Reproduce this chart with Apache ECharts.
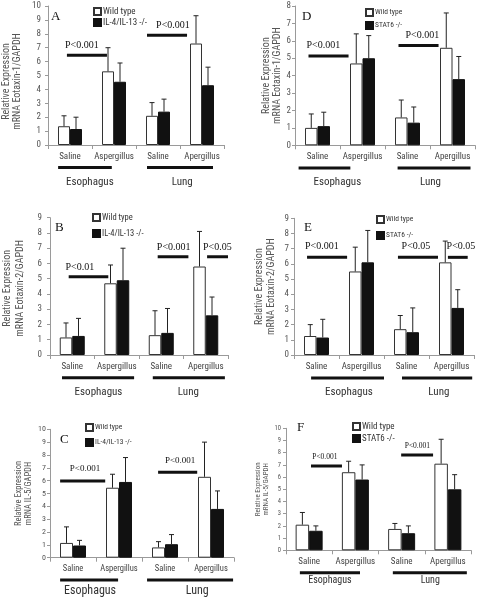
<!DOCTYPE html>
<html><head><meta charset="utf-8">
<script src="https://cdn.jsdelivr.net/npm/echarts@6/dist/echarts.min.js"></script>
<style>html,body{margin:0;padding:0;background:#fff}#c{width:480px;height:599px}</style>
</head><body><div id="c"></div><script>
// ---------- data ----------
const categories = ['Saline', 'Aspergillus', 'Saline', 'Apergillus'];
const groupNames = ['Esophagus', 'Lung'];
const wtName = 'Wild type';
const koIL = 'IL-4/IL-13 -/-';
const koSTAT = 'STAT6 -/-';
const yNameEot1 = 'Relative Expression\nmRNA Eotaxin-1/GAPDH';
const yNameEot2 = 'Relative Expression\nmRNA Eotaxin-2/GAPDH';
const yNameIL5 = 'Relative Expression\nmRNA IL-5/GAPDH';

// Panel A (Eotaxin-1, IL-4/IL-13 -/-)
const A_yMax = 10;
const A_wt = [1.35, 5.3, 2.1, 7.3];
const A_wtErr = [2.1, 7.0, 3.05, 9.3];
const A_ko = [1.15, 4.55, 2.4, 4.3];
const A_koErr = [2.0, 5.9, 3.3, 5.6];
const A_sig = ['P<0.001', 'P<0.001'];
// Panel D (Eotaxin-1, STAT6 -/-)
const D_yMax = 8;
const D_wt = [1.0, 4.7, 1.6, 5.6];
const D_wtErr = [1.8, 6.4, 2.6, 7.6];
const D_ko = [1.1, 5.0, 1.3, 3.8];
const D_koErr = [1.9, 6.3, 2.2, 5.1];
const D_sig = ['P<0.001', 'P<0.001'];
// Panel B (Eotaxin-2, IL-4/IL-13 -/-)
const B_yMax = 9;
const B_wt = [1.15, 4.7, 1.3, 5.8];
const B_wtErr = [2.1, 5.9, 2.9, 8.1];
const B_ko = [1.25, 4.9, 1.45, 2.6];
const B_koErr = [2.4, 7.0, 3.05, 3.8];
const B_sig = ['P<0.01', 'P<0.001', 'P<0.05'];
// Panel E (Eotaxin-2, STAT6 -/-)
const E_yMax = 9;
const E_wt = [1.25, 5.5, 1.7, 6.1];
const E_wtErr = [2.0, 7.1, 2.6, 7.5];
const E_ko = [1.15, 6.1, 1.5, 3.1];
const E_koErr = [2.35, 8.2, 3.1, 4.3];
const E_sig = ['P<0.001', 'P<0.05', 'P<0.05'];
// Panel C (IL-5, IL-4/IL-13 -/-)
const C_yMax = 10;
const C_wt = [1.15, 5.45, 0.8, 6.3];
const C_wtErr = [2.4, 6.5, 1.25, 9.0];
const C_ko = [0.95, 5.9, 1.05, 3.8];
const C_koErr = [1.35, 7.8, 1.8, 5.2];
const C_sig = ['P<0.001', 'P<0.001'];
// Panel F (IL-5, STAT6 -/-)
const F_yMax = 10;
const F_wt = [2.1, 6.4, 1.75, 7.1];
const F_wtErr = [3.1, 7.3, 2.2, 9.1];
const F_ko = [1.6, 5.8, 1.4, 5.0];
const F_koErr = [2.0, 7.0, 2.0, 6.2];
const F_sig = ['P<0.001', 'P<0.001'];

// ---------- layout (positions / styles only) ----------
const SANS = "'Liberation Sans Narrow','Roboto Condensed','Liberation Sans',sans-serif";
const SERIF = "'Liberation Serif','DejaVu Serif',serif";
const panels = [
  {letter:'A', wt:A_wt, wtErr:A_wtErr, ko:A_ko, koErr:A_koErr, koName:koIL, yMax:A_yMax, yName:yNameEot1, sigText:A_sig,
   grid:{left:48, top:6, width:176, height:139}, bw:12, yl:9, ym:7, nameGap:25, ns:10, nlh:11, npad:[0,12,0,0], cs:9, gs:11, gdy:22.5, gly:37,
   sigGap:10, ss:10, lg:{left:93, top:7, gap:2, size:9}, lt:[55,17],
   sig:[[-0.07,6.45,0.84,0.27],[1.75,7.89,2.66,2.34]], grp:[[-0.27,0.95,0.45],[1.75,3.25,2.55]]},
  {letter:'D', wt:D_wt, wtErr:D_wtErr, ko:D_ko, koErr:D_koErr, koName:koSTAT, yMax:D_yMax, yName:yNameEot1, sigText:D_sig,
   grid:{left:295, top:6, width:180, height:139.3}, bw:12.5, yl:9, ym:4, nameGap:10, ns:10, nlh:11, npad:[0,0,0,0], cs:9, gs:11, gdy:22.7, gly:37,
   sigGap:10.5, ss:10, lg:{left:365, top:8, gap:4, size:7.5}, lt:[306,17],
   sig:[[-0.2,5.13,0.69,0.13],[1.8,5.73,2.69,2.33]], grp:[[-0.42,0.73,0.44],[1.78,3.4,2.51]]},
  {letter:'B', wt:B_wt, wtErr:B_wtErr, ko:B_ko, koErr:B_koErr, koName:koIL, yMax:B_yMax, yName:yNameEot2, sigText:B_sig,
   grid:{left:48, top:217.7, width:180, height:137.3}, bw:12.5, yl:9, ym:8, nameGap:23, ns:10, nlh:13, npad:[0,4,0,0], cs:9, gs:11, gdy:22.7, gly:37,
   sigGap:9.5, ss:10, lg:{left:92, top:213, gap:7, size:8.5}, lt:[59,228],
   sig:[[-0.08,5.13,0.81,0.17],[1.92,6.44,2.61,2.28],[3.03,6.44,3.5,3.26]], grp:[[-0.23,1.39,0.59],[1.81,3.43,2.61]]},
  {letter:'E', wt:E_wt, wtErr:E_wtErr, ko:E_ko, koErr:E_koErr, koName:koSTAT, yMax:E_yMax, yName:yNameEot2, sigText:E_sig,
   grid:{left:294, top:218.3, width:180, height:136.7}, bw:12.5, yl:9, ym:5, nameGap:17, ns:10, nlh:12, npad:[0,0,0,0], cs:9, gs:11, gdy:23, gly:37,
   sigGap:10.5, ss:10, lg:{left:376, top:215, gap:7, size:7.5}, lt:[308,228],
   sig:[[-0.21,6.43,0.68,0.12],[1.81,6.43,2.7,2.21],[2.92,6.43,3.36,3.21]], grp:[[-0.12,1.5,0.72],[1.9,3.46,2.72]]},
  {letter:'C', wt:C_wt, wtErr:C_wtErr, ko:C_ko, koErr:C_koErr, koName:koIL, yMax:C_yMax, yName:yNameIL5, sigText:C_sig,
   grid:{left:50, top:429.3, width:184, height:128.4}, bw:13, yl:8, ym:4, nameGap:13, ns:8.5, nlh:10, npad:[0,0,0,0], cs:8.5, gs:12, gdy:22.3, gly:33,
   sigGap:12, ss:9, lg:{left:85, top:423, gap:6, size:7.5}, lt:[64,440],
   sig:[[-0.28,5.97,0.7,0.26],[1.85,6.65,2.7,2.33]], grp:[[-0.28,0.98,0.37],[1.61,3.48,2.7]]},
  {letter:'F', wt:F_wt, wtErr:F_wtErr, ko:F_ko, koErr:F_koErr, koName:koSTAT, yMax:F_yMax, yName:yNameIL5, sigText:F_sig,
   grid:{left:286, top:428.3, width:185, height:122}, bw:13.5, yl:6.5, ym:5, nameGap:15, ns:7, nlh:8, npad:[0,0,0,0], cs:9, gs:10, gdy:22.4, gly:30.5,
   sigGap:8.5, ss:7.5, lg:{left:352, top:422, gap:3, size:9}, lt:[301,428],
   sig:[[0.04,6.91,0.71,0.34],[1.99,7.81,2.68,2.34]], grp:[[-0.2,1.1,0.45],[1.81,3.41,2.62]]}
];

const grids = [], xAxes = [], yAxes = [], series = [], legends = [], graphics = [];
const AX = '#9a9a9a';
panels.forEach((p, i) => {
  grids.push(Object.assign({containLabel:false}, p.grid));
  xAxes.push({gridIndex:i, type:'category', data:categories,
    axisLine:{lineStyle:{color:AX, width:1}}, axisTick:{show:true, length:4, lineStyle:{color:AX}},
    axisLabel:{interval:0, fontSize:p.cs, color:'#444', margin:7, fontFamily:SANS}});
  yAxes.push({gridIndex:i, type:'value', min:0, max:p.yMax, interval:1, splitLine:{show:false},
    axisLine:{show:true, lineStyle:{color:AX, width:1}}, axisTick:{show:true, length:3, lineStyle:{color:AX}},
    axisLabel:{fontSize:p.yl, color:'#555', margin:p.ym, fontFamily:SANS},
    name:p.yName, nameLocation:'middle', nameGap:p.nameGap,
    nameTextStyle:{fontSize:p.ns, lineHeight:p.nlh, color:'#555', fontFamily:SANS, padding:p.npad}});
  series.push({type:'bar', name:wtName, xAxisIndex:i, yAxisIndex:i, data:p.wt, barWidth:p.bw, barGap:'0%',
    itemStyle:{color:'#fff', borderColor:'#333', borderWidth:1}, z:2});
  series.push({type:'bar', name:p.koName, xAxisIndex:i, yAxisIndex:i, data:p.ko, barWidth:p.bw, barGap:'0%',
    itemStyle:{color:'#111', borderColor:'#111', borderWidth:1}, z:2});
  // error bars (upper only)
  const errData = [];
  p.wt.forEach((v, j) => errData.push([j, v, p.wtErr[j], -1]));
  p.ko.forEach((v, j) => errData.push([j, v, p.koErr[j], 1]));
  series.push({type:'custom', xAxisIndex:i, yAxisIndex:i, data:errData, z:3, silent:true,
    encode:{x:0, y:1},
    renderItem:(params, api) => {
      const a = api.coord([api.value(0), api.value(1)]);
      const b = api.coord([api.value(0), api.value(2)]);
      const x = a[0] + api.value(3) * p.bw / 2;
      const cap = 2.5;
      return {type:'group', children:[
        {type:'line', shape:{x1:x, y1:a[1], x2:x, y2:b[1]}, style:{stroke:'#222', lineWidth:1}},
        {type:'line', shape:{x1:x-cap, y1:b[1], x2:x+cap, y2:b[1]}, style:{stroke:'#222', lineWidth:1}}
      ]};
    }});
  // significance bars
  series.push({type:'custom', xAxisIndex:i, yAxisIndex:i, z:4, silent:true,
    data:p.sig.map(s => [0, s[1], s[0], s[2], s[3]]), encode:{x:0, y:1},
    renderItem:(params, api) => {
      const base = api.coord([0, api.value(1)]);
      const bw = api.size([1, 0])[0];
      const x0 = base[0] + api.value(2) * bw, x1 = base[0] + api.value(3) * bw, tx = base[0] + api.value(4) * bw;
      return {type:'group', children:[
        {type:'line', shape:{x1:x0, y1:base[1], x2:x1, y2:base[1]}, style:{stroke:'#111', lineWidth:3}},
        {type:'text', style:{text:p.sigText[params.dataIndex], x:tx, y:base[1]-p.sigGap, align:'center', verticalAlign:'middle',
          font:'normal ' + p.ss + 'px ' + SERIF, fill:'#111'}}
      ]};
    }});
  // group lines + labels
  series.push({type:'custom', xAxisIndex:i, yAxisIndex:i, z:4, silent:true,
    data:p.grp.map(g => [0, 0, g[0], g[1], g[2]]), encode:{x:0, y:1},
    renderItem:(params, api) => {
      const base = api.coord([0, 0]);
      const bw = api.size([1, 0])[0];
      const x0 = base[0] + api.value(2) * bw, x1 = base[0] + api.value(3) * bw, tx = base[0] + api.value(4) * bw;
      const y = base[1] + p.gdy;
      return {type:'group', children:[
        {type:'line', shape:{x1:x0, y1:y, x2:x1, y2:y}, style:{stroke:'#111', lineWidth:3}},
        {type:'text', style:{text:groupNames[params.dataIndex], x:tx, y:base[1]+p.gly, align:'center', verticalAlign:'middle',
          font:'normal ' + p.gs + 'px ' + SANS, fill:'#333'}}
      ]};
    }});
  legends.push({data:[wtName, p.koName], orient:'vertical', left:p.lg.left, top:p.lg.top, itemGap:p.lg.gap,
    itemWidth:7, itemHeight:7, icon:'rect', selectedMode:false, padding:0,
    textStyle:{fontSize:p.lg.size, color:'#333', fontFamily:SANS, padding:[0,0,0,-3]}});
  graphics.push({type:'text', left:p.lt[0]-4, top:p.lt[1]-7, style:{text:p.letter, font:'normal 13px ' + SERIF, fill:'#111'}});
});

const chart = echarts.init(document.getElementById('c'), null, {renderer:'canvas', width:480, height:599});
chart.setOption({animation:false, backgroundColor:'#fff', grid:grids, xAxis:xAxes, yAxis:yAxes, series:series, legend:legends, graphic:graphics});
</script></body></html>
